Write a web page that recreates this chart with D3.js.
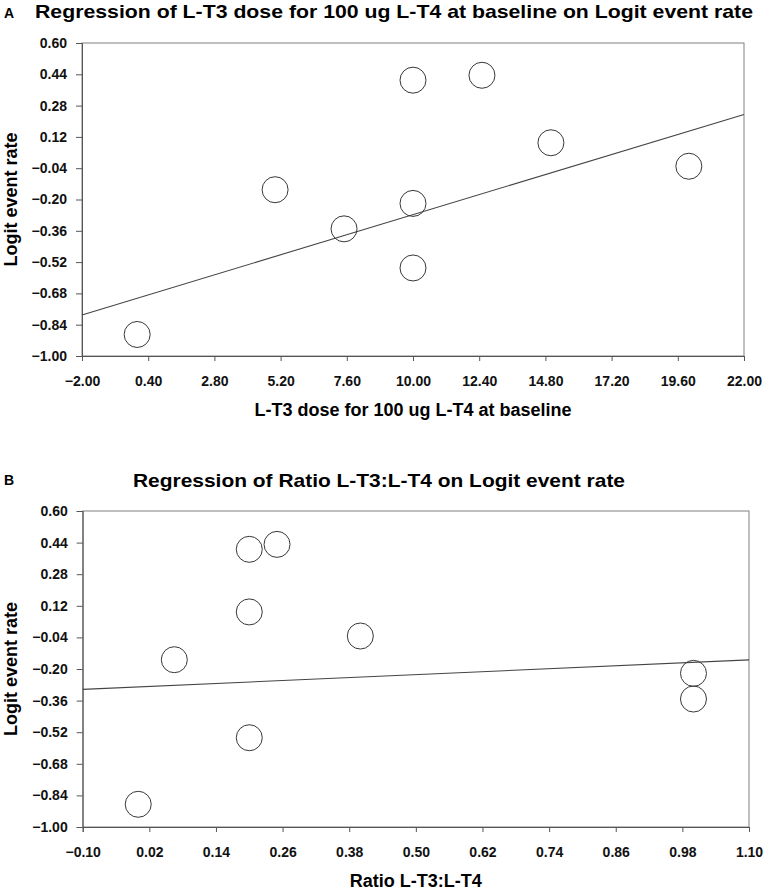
<!DOCTYPE html>
<html>
<head>
<meta charset="utf-8">
<script src="https://cdn.jsdelivr.net/npm/d3@7"></script>
<style>
    body { margin: 0; background: #fff; }
    svg { font-family: "Liberation Sans", Arial, sans-serif; }
    .tick text { font-weight: bold; fill: #111; }
</style>
</head>
<body>
<svg id="chart"></svg>
<script>
// panel A: L-T3 dose vs logit event rate
let dose_x = [0, 5, 7.5, 10, 12.5, 15, 20, 10, 10];
let dose_y = [-0.89, -0.15, -0.35, 0.41, 0.435, 0.09, -0.03, -0.22, -0.55];
let dose_fit = [[-2.0, -0.79], [22.0, 0.235]];
let dose_ticks = [-2.00, 0.40, 2.80, 5.20, 7.60, 10.00, 12.40, 14.80, 17.20, 19.60, 22.00];

// panel B: ratio L-T3:L-T4 vs logit event rate
let ratio_x = [0.0, 0.065, 0.20, 0.25, 0.20, 0.40, 0.20, 1.0, 1.0];
let ratio_y = [-0.885, -0.153, 0.406, 0.431, 0.089, -0.033, -0.548, -0.222, -0.352];
let ratio_fit = [[-0.10, -0.303], [1.10, -0.154]];
let ratio_ticks = [-0.10, 0.02, 0.14, 0.26, 0.38, 0.50, 0.62, 0.74, 0.86, 0.98, 1.10];

let logit_ticks = [0.60, 0.44, 0.28, 0.12, -0.04, -0.20, -0.36, -0.52, -0.68, -0.84, -1.00];

let width = 765, height = 892;
let svg = d3.select('#chart')
    .attr('width', width)
    .attr('height', height);

function draw_panel(cfg) {
    let x = d3.scaleLinear()
        .domain([cfg.xticks[0], cfg.xticks[cfg.xticks.length - 1]])
        .range([cfg.left, cfg.right]);
    let y = d3.scaleLinear()
        .domain([-1.0, 0.6])
        .range([cfg.bottom, cfg.top]);

    let g = svg.append('g');

    // frame
    g.append('rect')
        .attr('x', cfg.left)
        .attr('y', cfg.top)
        .attr('width', cfg.right - cfg.left)
        .attr('height', cfg.bottom - cfg.top)
        .attr('fill', 'none')
        .attr('stroke', '#808080')
        .attr('stroke-width', 1);

    // x axis
    let axis_x = d3.axisBottom(x)
        .tickValues(cfg.xticks)
        .tickSize(5)
        .tickPadding(15)
        .tickFormat(d3.format('.2f'));
    g.append('g')
        .attr('transform', `translate(0, ${cfg.bottom})`)
        .call(axis_x)
        .attr('font-size', 14)
        .attr('font-family', null)
        .call(a => a.select('.domain').attr('stroke', '#555'))
        .call(a => a.selectAll('.tick line').attr('stroke', '#555'));

    // y axis
    let axis_y = d3.axisLeft(y)
        .tickValues(logit_ticks)
        .tickSize(6)
        .tickPadding(9)
        .tickFormat(d3.format('.2f'));
    g.append('g')
        .attr('transform', `translate(${cfg.left}, 0)`)
        .call(axis_y)
        .attr('font-size', 14)
        .attr('font-family', null)
        .call(a => a.select('.domain').attr('stroke', '#555'))
        .call(a => a.selectAll('.tick line').attr('stroke', '#555'));

    // regression line
    g.append('line')
        .attr('x1', x(cfg.fit[0][0]))
        .attr('y1', y(cfg.fit[0][1]))
        .attr('x2', x(cfg.fit[1][0]))
        .attr('y2', y(cfg.fit[1][1]))
        .attr('stroke', '#444')
        .attr('stroke-width', 1.1);

    // points
    g.append('g')
        .selectAll('circle')
        .data(cfg.xs)
        .enter().append('circle')
        .attr('cx', d => x(d))
        .attr('cy', (d, i) => y(cfg.ys[i]))
        .attr('r', 13)
        .attr('fill', 'none')
        .attr('stroke', '#383838')
        .attr('stroke-width', 1);

    // panel letter
    g.append('text')
        .attr('x', 4)
        .attr('y', cfg.letter_y)
        .attr('font-size', 14)
        .attr('font-weight', 'bold')
        .text(cfg.letter);

    // title (the original lettering is wide, so stretch to its measured length)
    g.append('text')
        .attr('x', cfg.title_x)
        .attr('y', cfg.title_y)
        .attr('font-size', 19)
        .attr('font-weight', 'bold')
        .attr('textLength', cfg.title_len)
        .attr('lengthAdjust', 'spacingAndGlyphs')
        .text(cfg.title);

    // axis labels
    g.append('text')
        .attr('x', (cfg.left + cfg.right) / 2)
        .attr('y', cfg.bottom + 60)
        .attr('text-anchor', 'middle')
        .attr('font-size', 18)
        .attr('font-weight', 'bold')
        .text(cfg.xlabel);

    g.append('text')
        .attr('transform', `translate(17, ${(cfg.top + cfg.bottom) / 2}) rotate(-90)`)
        .attr('text-anchor', 'middle')
        .attr('font-size', 18)
        .attr('font-weight', 'bold')
        .text('Logit event rate');
}

draw_panel({
    left: 82, right: 744, top: 43, bottom: 356,
    xs: dose_x, ys: dose_y, fit: dose_fit, xticks: dose_ticks,
    letter: 'A', letter_y: 17.5,
    title: 'Regression of L-T3 dose for 100 ug L-T4 at baseline on Logit event rate',
    title_x: 35, title_y: 17.5, title_len: 718,
    xlabel: 'L-T3 dose for 100 ug L-T4 at baseline'
});

draw_panel({
    left: 82.7, right: 749, top: 511, bottom: 827,
    xs: ratio_x, ys: ratio_y, fit: ratio_fit, xticks: ratio_ticks,
    letter: 'B', letter_y: 485,
    title: 'Regression of Ratio L-T3:L-T4 on Logit event rate',
    title_x: 133, title_y: 487, title_len: 492,
    xlabel: 'Ratio L-T3:L-T4'
});
</script>
</body>
</html>
